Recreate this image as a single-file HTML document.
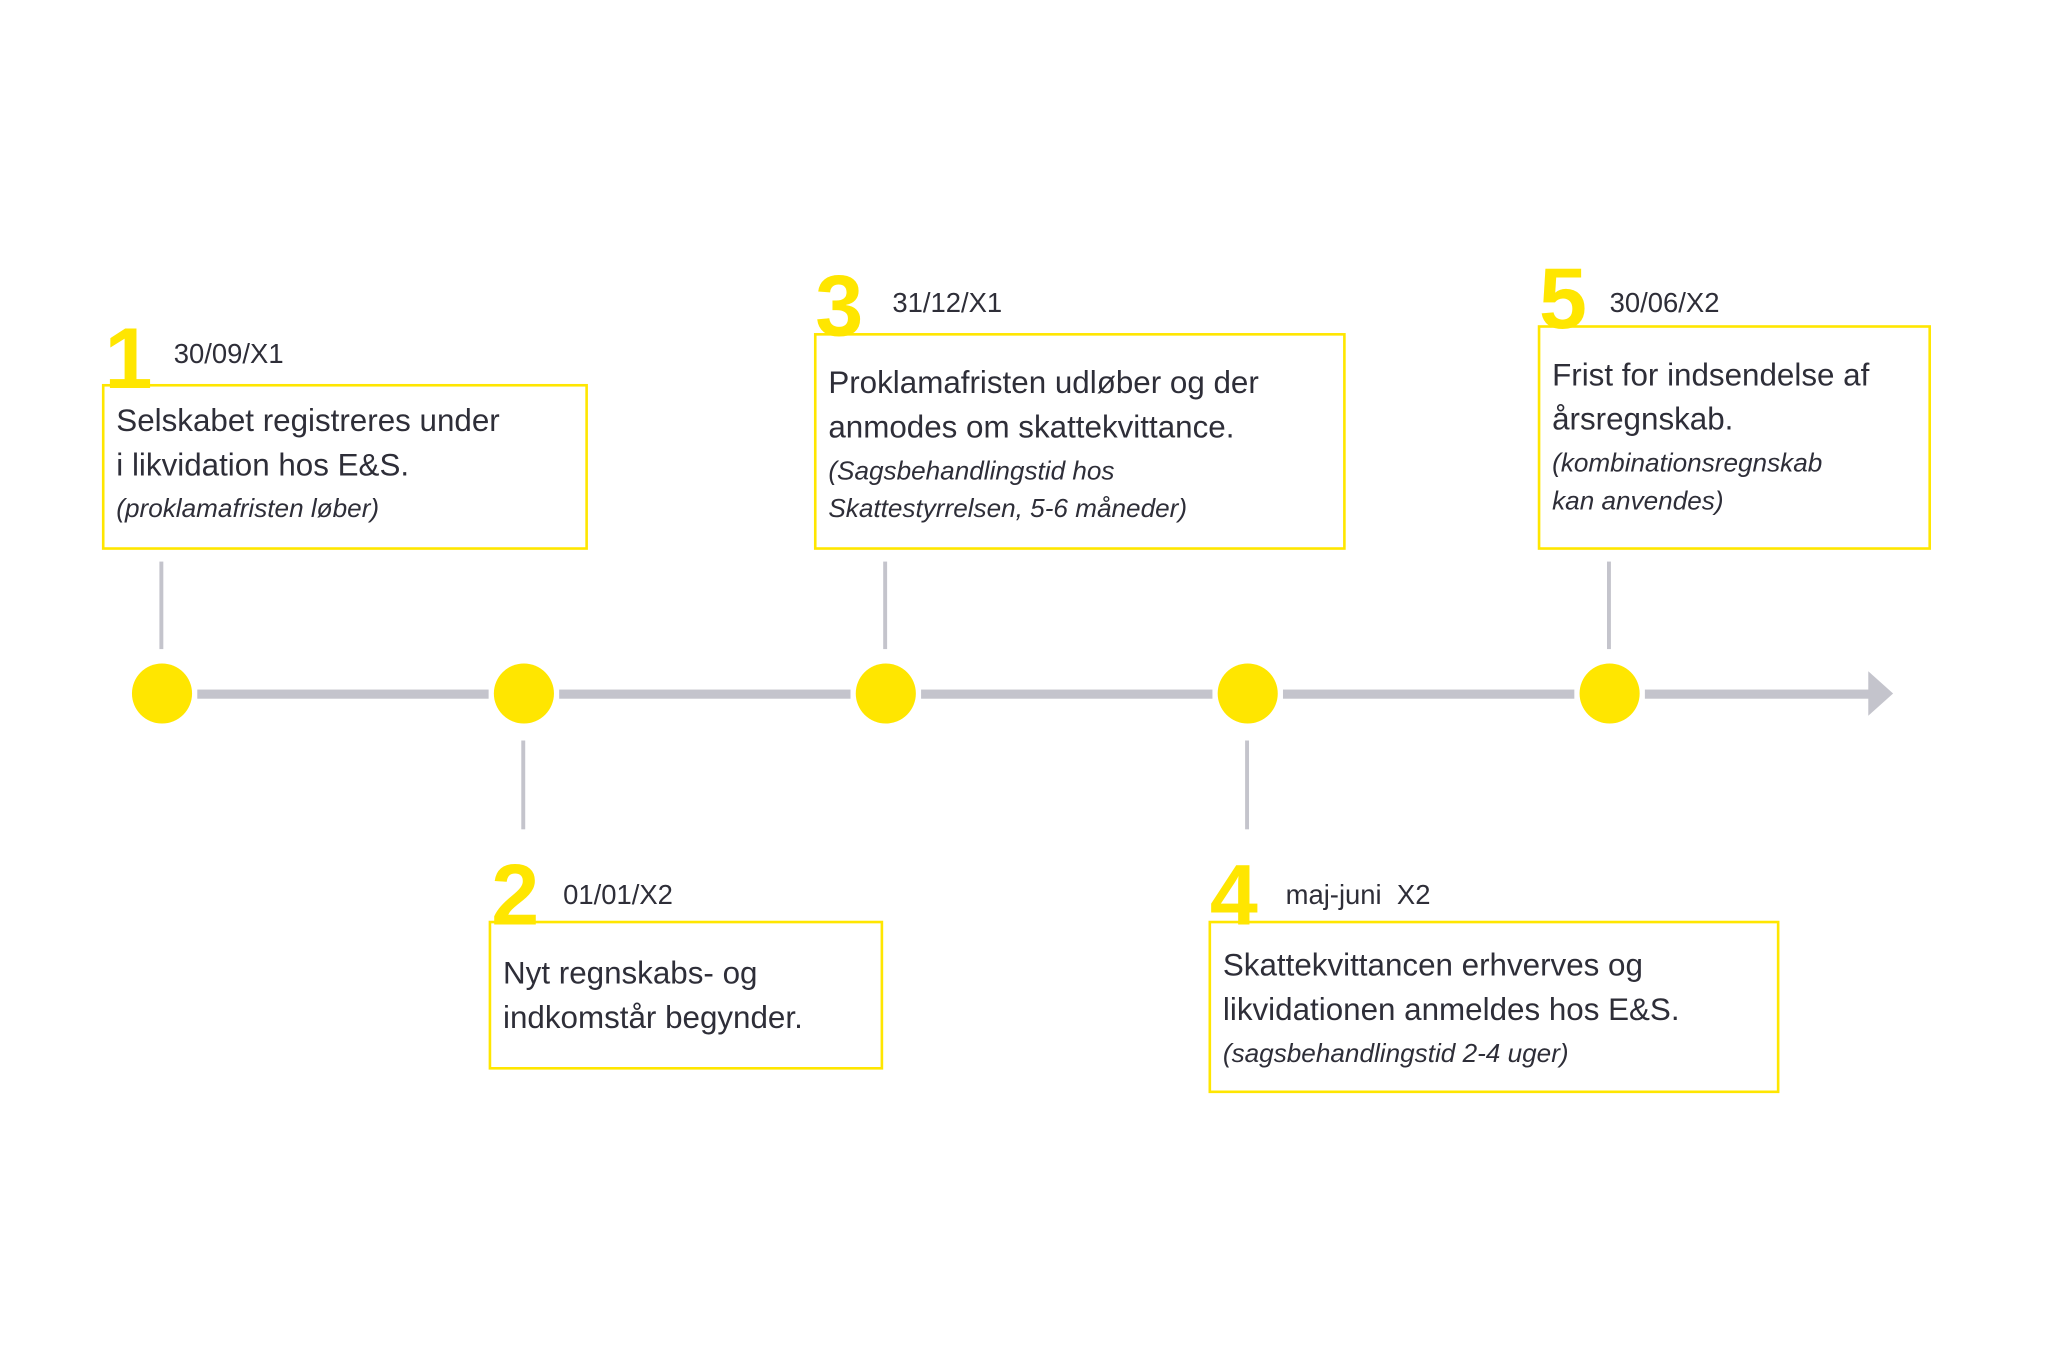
<!DOCTYPE html>
<html><head><meta charset="utf-8"><style>
html,body{margin:0;padding:0;background:#fff;}
body{width:2048px;height:1365px;overflow:hidden;position:relative;}
#s{position:absolute;left:0;top:0;width:1570px;height:1045px;transform:scale(1.3065,1.306);transform-origin:0 0;font-family:"Liberation Sans",sans-serif;color:#2e2e38;}
.a{position:absolute;}
.box{position:absolute;border:2px solid #ffe600;box-sizing:border-box;}
.num{position:absolute;color:#ffe600;font-weight:bold;font-size:66px;line-height:1;}
.date{position:absolute;font-size:21px;line-height:1;}
.t{position:absolute;font-size:24px;line-height:34px;white-space:nowrap;}
.i{display:block;font-style:italic;font-size:20px;line-height:29px;margin-top:2px;}
.c{position:absolute;width:46px;height:46px;border-radius:50%;background:#ffe600;}
.st{position:absolute;width:3px;background:#c4c4cc;}
.ln{position:absolute;height:7px;background:#c4c4cc;top:528px;}
</style></head><body><div id="s">
<div class="ln" style="left:151px;width:223px"></div>
<div class="ln" style="left:428px;width:223px"></div>
<div class="ln" style="left:705px;width:223px"></div>
<div class="ln" style="left:982px;width:223px"></div>
<div class="ln" style="left:1259px;width:175px"></div>
<div class="a" style="left:1430px;top:514px;width:0;height:0;border-top:17px solid transparent;border-bottom:17px solid transparent;border-left:19px solid #c4c4cc"></div>
<div class="c" style="left:101px;top:508px"></div>
<div class="c" style="left:378px;top:508px"></div>
<div class="c" style="left:655px;top:508px"></div>
<div class="c" style="left:932px;top:508px"></div>
<div class="c" style="left:1209px;top:508px"></div>
<div class="st" style="left:122px;top:430px;height:67px"></div>
<div class="st" style="left:399px;top:567px;height:68px"></div>
<div class="st" style="left:676px;top:430px;height:67px"></div>
<div class="st" style="left:953px;top:567px;height:68px"></div>
<div class="st" style="left:1230px;top:430px;height:67px"></div>

<div class="num" style="left:80px;top:241px">1</div>
<div class="date" style="left:133px;top:261px">30/09/X1</div>
<div class="box" style="left:78px;top:294px;width:372px;height:127px"></div>
<div class="t" style="left:89px;top:306px">Selskabet registreres under<br>i likvidation hos E&amp;S.<span class="i">(proklamafristen løber)</span></div>

<div class="num" style="left:624px;top:201px">3</div>
<div class="date" style="left:683px;top:222px">31/12/X1</div>
<div class="box" style="left:623px;top:255px;width:407px;height:166px"></div>
<div class="t" style="left:634px;top:277px">Proklamafristen udløber og der<br>anmodes om skattekvittance.<span class="i">(Sagsbehandlingstid hos<br>Skattestyrrelsen, 5-6 måneder)</span></div>

<div class="num" style="left:1178px;top:195px">5</div>
<div class="date" style="left:1232px;top:222px">30/06/X2</div>
<div class="box" style="left:1177px;top:249px;width:301px;height:172px"></div>
<div class="t" style="left:1188px;top:271px">Frist for indsendelse af<br>årsregnskab.<span class="i">(kombinationsregnskab<br>kan anvendes)</span></div>

<div class="num" style="left:376px;top:652px">2</div>
<div class="date" style="left:431px;top:675px">01/01/X2</div>
<div class="box" style="left:374px;top:705px;width:302px;height:114px"></div>
<div class="t" style="left:385px;top:729px">Nyt regnskabs- og<br>indkomstår begynder.</div>

<div class="num" style="left:926px;top:652px">4</div>
<div class="date" style="left:984px;top:675px">maj-juni&nbsp; X2</div>
<div class="box" style="left:925px;top:705px;width:437px;height:132px"></div>
<div class="t" style="left:936px;top:723px">Skattekvittancen erhverves og<br>likvidationen anmeldes hos E&amp;S.<span class="i">(sagsbehandlingstid 2-4 uger)</span></div>
</div></body></html>
